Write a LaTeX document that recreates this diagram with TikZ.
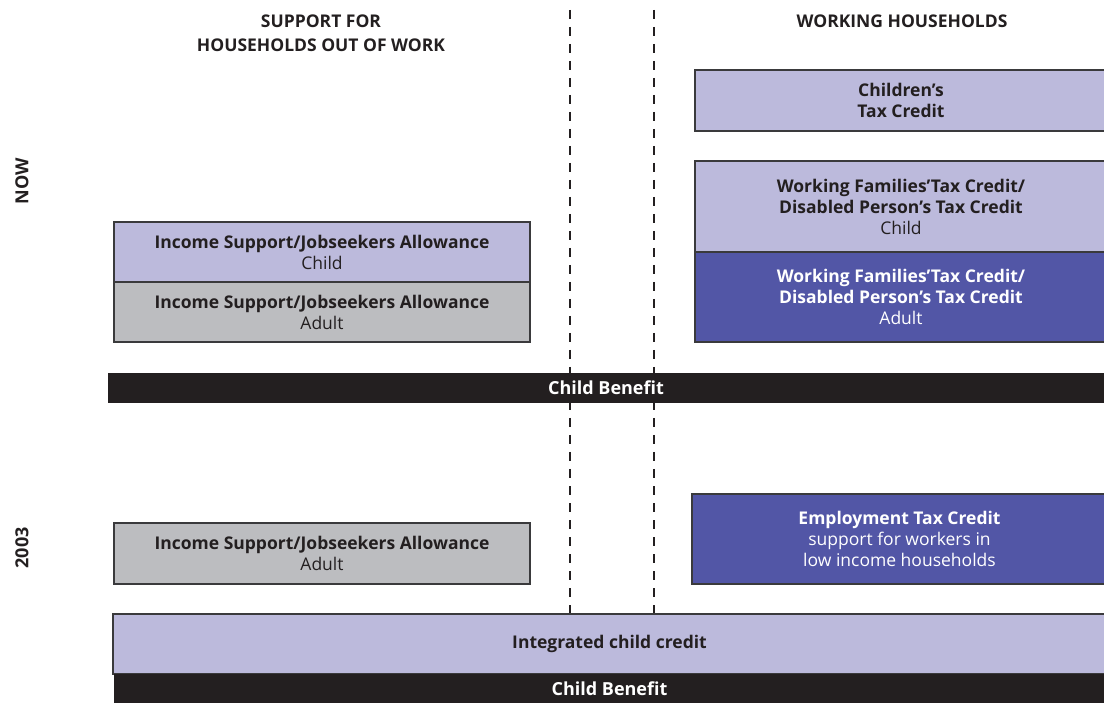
\documentclass[tikz,border=0pt]{standalone}
\usepackage{fontspec}
\setmainfont{Open Sans}
\definecolor{lav}{HTML}{BCBADC}
\definecolor{navy}{HTML}{5256A6}
\definecolor{stone}{HTML}{BCBDC0}
\definecolor{ink}{HTML}{231F20}
\definecolor{edge}{HTML}{3A3A3C}
\begin{document}
\begin{tikzpicture}[x=1pt,y=-1pt,
  box/.style={draw=edge, line width=1.2pt, inner sep=0pt, align=center,
    text=ink, font=\fontsize{17.5}{21}\selectfont},
  lavbox/.style={box, fill=lav},
  greybox/.style={box, fill=stone},
  navybox/.style={box, fill=navy, text=white},
  bar/.style={fill=ink, inner sep=0pt, text=white, align=center,
    font=\fontsize{18}{21}\selectfont\bfseries},
  head/.style={align=center, text=ink, font=\fontsize{17.5}{24}\selectfont\bfseries},
  period/.style={rotate=90, text=ink, font=\fontsize{18}{20}\selectfont\bfseries},
  divider/.style={draw=ink, line width=1.8pt, dash pattern=on 9pt off 8pt}]
\useasboundingbox (0,0) rectangle (1104,703);

% column dividers
\coordinate (d1top) at (570,10);
\coordinate (d1bot) at (570,614);
\coordinate (d2top) at (654,10);
\coordinate (d2bot) at (654,614);
\draw[divider] (d1top) -- (d1bot);
\draw[divider] (d2top) -- (d2bot);

% column headings
\node[head] (hleft) at (321,33) {SUPPORT FOR\\HOUSEHOLDS OUT OF WORK};
\node[head] (hright) at (902,21) {WORKING HOUSEHOLDS};

% period labels
\node[period] (now) at (22,181) {NOW};
\node[period] (y2003) at (22,548) {2003};

% current system
\node[lavbox, minimum width=416pt, minimum height=60pt] (isc) at (322,252)
  {\bfseries Income Support/Jobseekers Allowance\\Child};
\node[greybox, minimum width=416pt, minimum height=60pt] (isa) at (322,312)
  {\bfseries Income Support/Jobseekers Allowance\\Adult};

\node[lavbox, minimum width=412pt, minimum height=61pt] (ctc) at (901,100.5)
  {\bfseries Children's\\\bfseries Tax Credit};
\node[lavbox, minimum width=412pt, minimum height=91pt] (wftcc) at (901,206.5)
  {\bfseries Working Families'Tax Credit/\\\bfseries Disabled Person's Tax Credit\\Child};
\node[navybox, minimum width=412pt, minimum height=90pt] (wftca) at (901,297)
  {\bfseries Working Families'Tax Credit/\\\bfseries Disabled Person's Tax Credit\\Adult};

\node[bar, minimum width=996pt, minimum height=30pt] (cb1) at (606,388) {Child Benefit};

% 2003 system
\node[greybox, minimum width=416pt, minimum height=61pt] (isa2) at (322,553.5)
  {\bfseries Income Support/Jobseekers Allowance\\Adult};
\node[navybox, minimum width=415pt, minimum height=90pt] (etc) at (899.5,539)
  {\bfseries Employment Tax Credit\\support for workers in\\low income households};

\node[lavbox, minimum width=993pt, minimum height=60pt] (icc) at (609.5,644)
  {\bfseries Integrated child credit};
\node[bar, minimum width=991pt, minimum height=29pt] (cb2) at (609.5,688.5) {Child Benefit};
\end{tikzpicture}
\end{document}
